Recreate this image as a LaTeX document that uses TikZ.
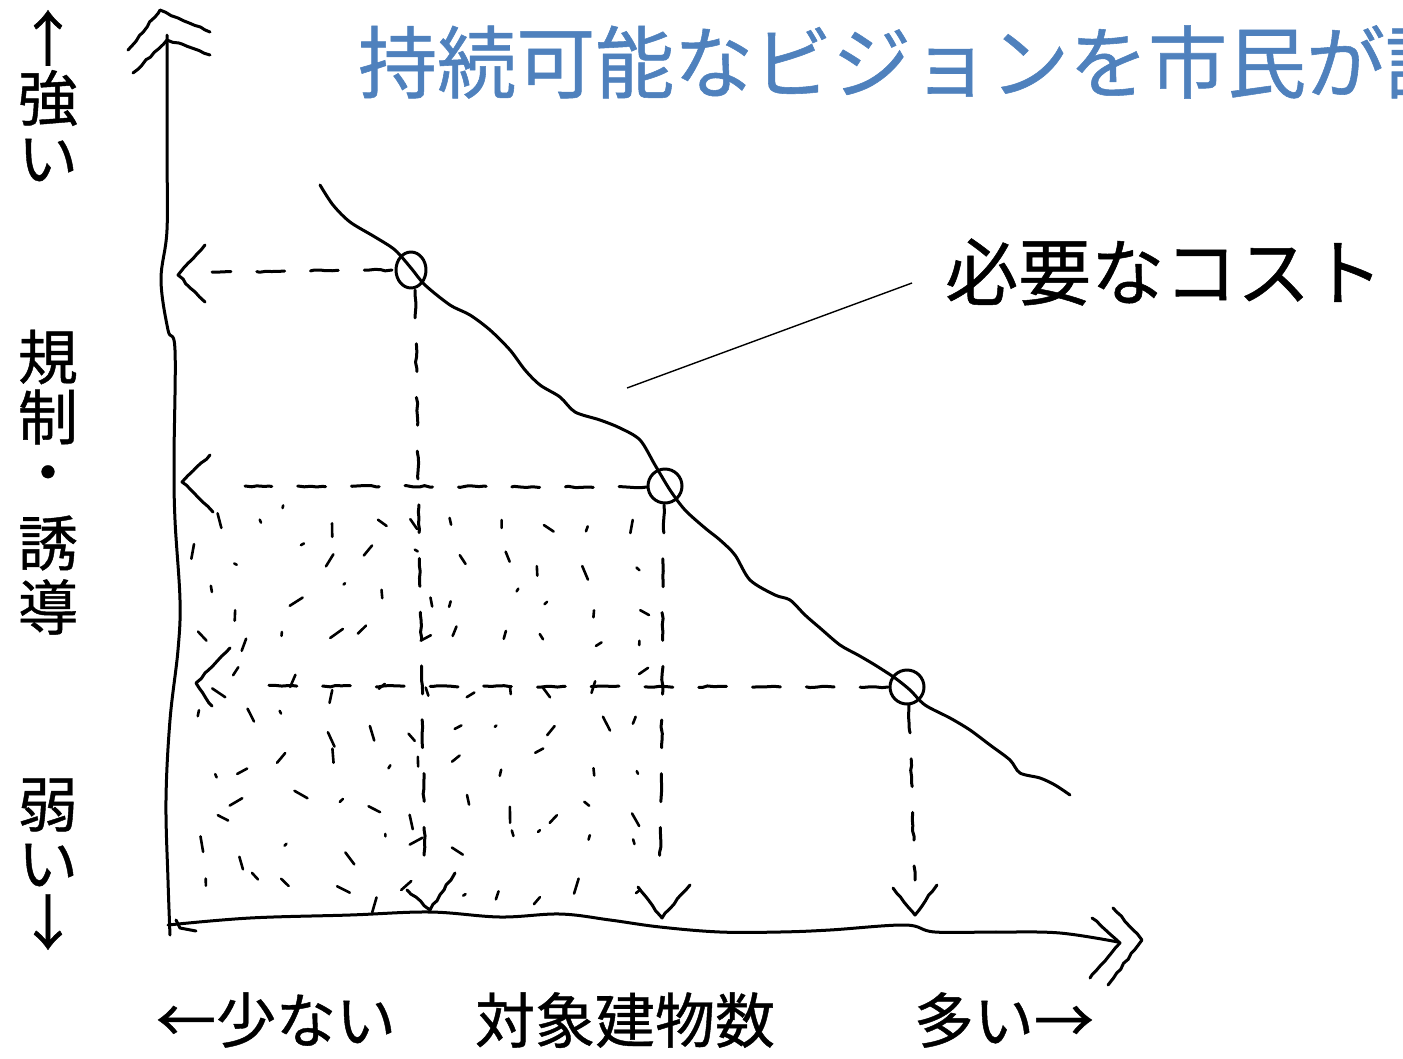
\documentclass[tikz,border=0pt]{standalone}
\usepackage{fontspec}
\setmainfont{Noto Sans CJK JP}[FakeBold=0.7]
\usetikzlibrary{decorations.pathmorphing}
\definecolor{titleblue}{RGB}{79,129,189}
\begin{document}
\begin{tikzpicture}[x=1pt,y=-1pt,
  skn/.style={line width=3pt, line cap=round, line join=round},
  sk/.style={skn, decorate,
    decoration={random steps, segment length=6pt, amplitude=0.8pt}},
  skd/.style={sk, dash pattern=on 28pt off 26pt},
  hatch/.style={line width=2.6pt, line cap=round},
  lbl/.style={inner sep=0pt, font=\fontsize{60}{60}\selectfont},
  ttl/.style={inner sep=0pt, text=titleblue, font=\fontsize{79}{79}\selectfont}]
\useasboundingbox (0,0) rectangle (1403,1058);
\clip (0,0) rectangle (1403,1058);
\pgfmathsetseed{17}

% title
\node[ttl, anchor=west] (title) at (358,62) {持続可能なビジョンを市民が語};

% left labels
\node[lbl] (u1) at (48,38) {↑};
\node[lbl] (u2) at (48,98) {強};
\node[lbl] (u3) at (48,160) {い};
\node[lbl] (m1) at (48,357) {規};
\node[lbl] (m2) at (48,417) {制};
\node[lbl] (m3) at (48,480) {・};
\node[lbl] (m4) at (48,543) {誘};
\node[lbl] (m5) at (48,607) {導};
\node[lbl] (d1) at (48,805) {弱};
\node[lbl] (d2) at (48,865) {い};
\node[lbl] (d3) at (48,922) {↓};

% bottom labels
\node[lbl] (few) at (276,1020) {←少ない};
\node[lbl] (num) at (625,1020) {対象建物数};
\node[lbl] (many) at (1004,1020) {多い→};

% cost label
\node[lbl, font=\fontsize{73}{73}\selectfont, anchor=west] (cost) at (945,272) {必要なコスト};

% key points
\coordinate (p1) at (411,270);
\coordinate (p2) at (665,486);
\coordinate (p3) at (907,687);
\coordinate (a1) at (178,275);
\coordinate (a2) at (182,482);
\coordinate (a3) at (196,683);
\coordinate (b1) at (430,910);
\coordinate (b2) at (662,918);
\coordinate (b3) at (915,915);
\coordinate (lead) at (627,388);

% y axis
\draw[skn] plot[smooth, tension=0.6] coordinates {(170,935) (168,880) (166,800) (170,720) (178,650) (180,600) (175,520) (174,460) (175,350) (168,330) (161,280) (167,230) (167,150) (167,35)};
\draw[sk] (128,50) -- (160,10) -- (178,18) -- (210,32);
\draw[sk] (133,73) -- (167,40) -- (182,44) -- (210,55);

% x axis
\draw[skn] plot[smooth, tension=0.6] coordinates {(168,925) (250,918) (350,915) (430,912) (500,917) (560,914) (610,920) (660,927) (720,932) (780,932) (830,930) (905,925) (935,932) (1000,932) (1060,933) (1118,942)};
\draw[sk] (1092,918) -- (1120,943) -- (1090,978);
\draw[sk] (1113,908) -- (1142,940) -- (1108,985);
\draw[skn] (176,920) -- (180,928) -- (196,931);

% cost curve
\draw[skn] plot[smooth, tension=0.5] coordinates {(320,185) (333,205) (350,222) (375,237) (395,250) (411,268) (425,285) (450,305) (470,315) (490,330) (510,350) (525,370) (540,385) (560,397) (575,412) (600,420) (620,428) (640,440) (655,465) (670,490) (685,510) (705,528) (720,540) (735,555) (750,580) (775,595) (790,600) (805,615) (820,628) (840,645) (858,655) (875,665) (895,678) (910,690) (925,705) (950,718) (970,730) (990,745) (1010,760) (1020,773) (1040,778) (1055,785) (1070,795)};

% circles
\draw[skn] (p1) ellipse [x radius=15pt, y radius=18pt];
\draw[skn] (p2) ellipse [x radius=17pt, y radius=17pt];
\draw[skn] (p3) ellipse [x radius=17pt, y radius=17pt];

% leader
\draw[line width=1.4pt] (lead) -- (912,283);

% horizontal dashed arrows
\draw[skd] (392,270) -- (212,272);
\draw[sk] (205,245) -- (a1) -- (205,302);
\draw[skd] (647,487) -- (245,486);
\draw[sk] (210,455) -- (a2) -- (213,512);
\draw[skd] (888,687) -- (250,686);
\draw[sk] (230,648) -- (a3) -- (212,706);

% vertical dashed arrows
\draw[skd] (415,290) -- (425,870);
\draw[sk] (407,890) -- (b1) -- (455,873);
\draw[skd] (664,505) -- (660,880);
\draw[sk] (638,887) -- (b2) -- (690,885);
\draw[skd] (909,705) -- (915,880);
\draw[sk] (893,888) -- (b3) -- (937,885);

% hatching
\foreach \i in {0,...,10} {
  \foreach \j in {0,...,9} {
    \pgfmathsetmacro{\hx}{205+\i*43+rand*14}
    \pgfmathsetmacro{\hy}{515+\j*41+rand*14}
    \pgfmathsetmacro{\ha}{90+rand*65}
    \pgfmathsetmacro{\hl}{2+14*rnd}
    \draw[hatch] (\hx,\hy) -- ++(\ha:\hl);
  }
}
\end{tikzpicture}
\end{document}
